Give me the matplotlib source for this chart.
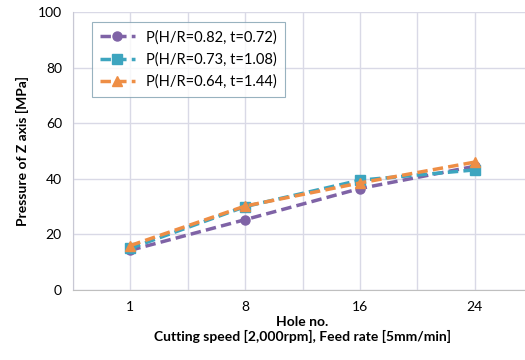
import matplotlib
matplotlib.use("Agg")
import matplotlib.pyplot as plt

categories = ["1", "8", "16", "24"]
labels = ["P(H/R=0.82, t=0.72)", "P(H/R=0.73, t=1.08)", "P(H/R=0.64, t=1.44)"]
s1 = [14.3, 25.3, 36.5, 44.5]
s2 = [15.0, 30.0, 39.5, 43.2]
s3 = [16.0, 30.2, 38.5, 46.0]

plt.rcParams['font.family'] = ['Lato', 'DejaVu Sans']

fig = plt.figure(figsize=(5.25, 3.6), dpi=100)
ax = fig.add_axes([73/525, 70/360, 459/525, 278/360])

x = list(range(len(categories)))
styles = [("#7F63A6", "o", s1), ("#3DA5BF", "s", s2), ("#EE8E45", "^", s3)]
for (c, m, s), lab in zip(styles, labels):
    ax.plot(x, s, color=c, marker=m, markersize=6.5, linestyle=(0, (3, 1.5)), linewidth=2.5, label=lab)

ax.set_xlim(-0.5, 3.5)
ax.set_ylim(0, 100)
ax.set_yticks([0, 20, 40, 60, 80, 100])
ax.set_xticks(x)
ax.set_xticklabels(categories)
ax.set_xticks([-0.5, 0.5, 1.5, 2.5, 3.5], minor=True)
ax.grid(True, which='both', color='#D9D9E6', linewidth=1)
ax.tick_params(which='both', length=0, labelsize=10, pad=8)
for sp in ['top', 'right']:
    ax.spines[sp].set_visible(False)
ax.spines['left'].set_color('#C8C8D4')
ax.spines['bottom'].set_color('#BFBFBF')
ax.set_axisbelow(True)

ax.set_ylabel("Pressure of Z axis [MPa]", fontsize=10, fontweight='bold', labelpad=6)
ax.set_xlabel("Hole no.\nCutting speed [2,000rpm], Feed rate [5mm/min]", fontsize=10, fontweight='bold', labelpad=2)

leg = ax.legend(loc='upper left', bbox_to_anchor=(0.025, 0.99), fontsize=10.5, frameon=True,
                fancybox=False, edgecolor='#7F9FB0', handlelength=2.4, borderpad=0.55, labelspacing=0.55)
leg.get_frame().set_linewidth(0.8)

fig.savefig("out.png", dpi=100)
